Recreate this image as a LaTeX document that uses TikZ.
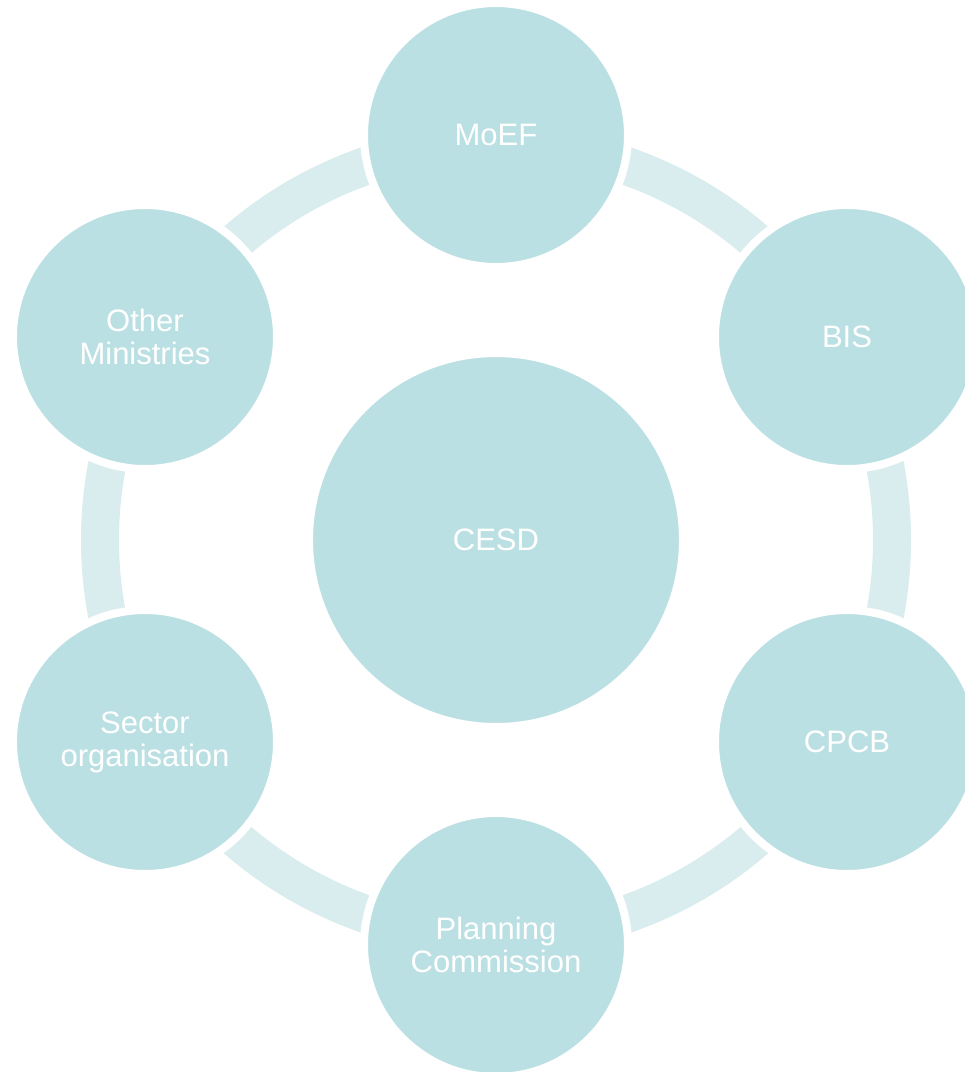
\documentclass[tikz,border=0pt]{standalone}
\usepackage{fontspec}
\setmainfont{Liberation Sans}
\usepackage{tikz}
\usepackage{xcolor}

\definecolor{bubble}{RGB}{187,224,227}
\definecolor{ringband}{RGB}{217,236,238}

\begin{document}
\begin{tikzpicture}[x=1pt, y=-1pt,
  hub/.style={circle, fill=bubble, draw=white, line width=8pt, inner sep=0pt,
    minimum size=374pt, text=white, align=center, font=\fontsize{31}{33}\selectfont},
  spoke/.style={hub, minimum size=264pt},
  ring/.style={draw=ringband, line width=38pt}]
\useasboundingbox (0,0) rectangle (965,1072);
\coordinate (mid) at (496,540);
\draw[ring] (mid) circle[radius=396];
\node[hub] (cesd) at (mid) {CESD};
\node[spoke] (moef) at (496,135) {MoEF};
\node[spoke] (bis) at (847,337) {BIS};
\node[spoke] (cpcb) at (847,742) {CPCB};
\node[spoke] (planning) at (496,945) {Planning\\Commission};
\node[spoke] (sector) at (145,742) {Sector\\organisation};
\node[spoke] (othermin) at (145,337) {Other\\Ministries};
\end{tikzpicture}
\end{document}
